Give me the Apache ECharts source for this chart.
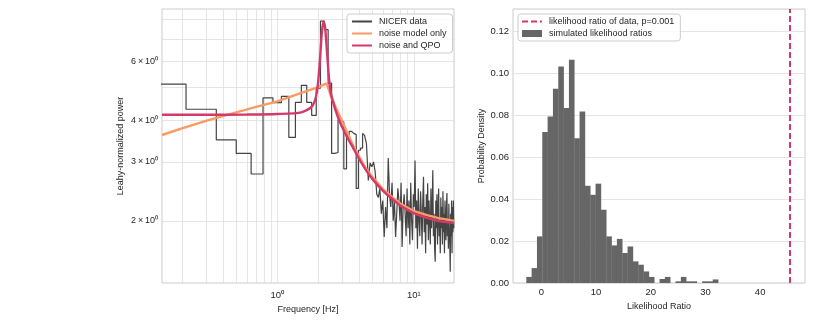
<!DOCTYPE html>
<html lang="en">
<head>
  <meta charset="UTF-8">
  <title>NICER QPO likelihood ratio test</title>
  <script src="https://cdn.jsdelivr.net/npm/echarts@6/dist/echarts.min.js"></script>
  <style>
    html, body { margin: 0; padding: 0; background: #fff; }
    #chart { width: 830px; height: 332px; }
  </style>
</head>
<body>
<div id="chart"></div>
<script>
// --- left panel: NICER power spectrum (Leahy normalised), frequency resolution 1/7 Hz
const freqStep = 1 / 7;
const nicerPower = [
  5.12, 4.31, 3.49, 3.18, 2.76, 4.66, 4.51, 4.71, 3.55, 4.52,
  5.08, 4.52, 4.13, 4.98, 7.90, 7.45, 5.16, 3.18, 3.20, 4.00,
  3.95, 2.86, 3.60, 3.70, 3.65, 3.62, 2.50, 3.25, 3.30, 3.65,
  3.60, 3.40, 2.64, 2.98, 2.90, 3.00, 2.80, 2.40, 2.35, 2.50,
  2.10, 2.30, 1.79, 2.20, 1.90, 3.08, 2.40, 2.20, 2.60, 2.00,
  2.30, 1.79, 2.10, 2.50, 2.30, 2.00, 2.60, 1.67, 2.20, 2.40,
  2.10, 1.80, 2.50, 1.90, 2.30, 1.70, 2.60, 2.00, 1.75, 2.40,
  2.20, 3.03, 1.90, 2.30, 1.65, 2.50, 2.00, 1.80, 2.45, 2.10,
  1.70, 2.30, 2.71, 1.85, 2.20, 1.60, 2.40, 1.95, 2.59, 1.75,
  2.30, 2.00, 1.70, 2.50, 1.90, 2.20, 2.83, 1.80, 2.10, 1.65,
  1.51, 2.30, 1.90, 2.40, 1.70, 2.10, 2.50, 1.80, 2.00, 1.60,
  2.35, 1.90, 2.20, 1.70, 2.45, 1.85, 2.10, 1.60, 2.30, 1.95,
  1.75, 2.20, 2.42, 1.80, 2.00, 1.65, 2.25, 1.90, 1.70, 1.41,
  2.10, 1.80, 2.30, 1.60, 2.20, 1.85, 2.30, 1.90
];

const noiseFreq  = [0.1429, 0.2, 0.3, 0.5, 0.7, 1.0, 1.5, 2.0, 2.3, 2.5, 2.8, 3.2, 3.6, 4.0, 4.5, 5.0, 6.0, 7.0, 8.0, 10, 12.5, 15, 19.79];
const noiseModel = [3.61, 3.78, 3.98, 4.22, 4.38, 4.55, 4.82, 5.02, 5.15, 4.65, 4.20, 3.73, 3.35, 3.10, 2.85, 2.70, 2.48, 2.35, 2.25, 2.14, 2.08, 2.04, 2.00];

const qpoFreq  = [0.1429, 0.3, 0.6, 1.0, 1.5, 1.8, 1.95, 2.05, 2.12, 2.18, 2.24, 2.3, 2.36, 2.42, 2.5, 2.8, 3.2, 3.6, 4.0, 4.5, 5.0, 6.0, 7.0, 8.0, 10, 12.5, 15, 19.79];
const qpoModel = [4.15, 4.15, 4.155, 4.17, 4.22, 4.40, 4.85, 6.0, 7.3, 7.88, 7.55, 6.6, 5.7, 5.1, 4.70, 4.05, 3.60, 3.30, 3.05, 2.82, 2.66, 2.45, 2.32, 2.22, 2.11, 2.04, 2.00, 1.97];

const freqLabels  = [1, 10];
const freqGrid    = [0.2, 0.3, 0.4, 0.5, 0.6, 0.7, 0.8, 0.9, 1, 2, 3, 4, 5, 6, 7, 8, 9, 10];
const powerLabels = [2, 3, 4, 6];
const powerGrid   = [2, 3, 4, 5, 6, 7, 8];

// --- right panel: simulated likelihood ratio histogram (density)
const histStart = -2.74;
const histWidth = 0.974;
const histDensity = [
  0.0029, 0.0071, 0.0222, 0.0719, 0.0793, 0.0925, 0.1031, 0.0833, 0.1063, 0.0690,
  0.0817, 0.0463, 0.0420, 0.0473, 0.0349, 0.0222, 0.0179, 0.0210, 0.0143, 0.0174,
  0.0103, 0.0087, 0.0055, 0.0029, 0, 0.0019, 0.0029, 0, 0.0008, 0.0029,
  0.0008, 0.0008, 0, 0.0008, 0.0008, 0.0017
];
const observedLR = 45.5;
const lrLabels = [0, 10, 20, 30, 40];

const FONT = "'Liberation Sans', Arial, sans-serif";
const TXT = '#262626';
const PINK = '#d33a6a';
const ORANGE = '#fa9a64';

// build step outline (steps-mid): each bin spans halfway to its neighbours
const freqs = nicerPower.map((_, i) => (i + 1) * freqStep);
const stepData = freqs.map((f, i) => [f - freqStep / 2, nicerPower[i]]);
stepData.push([freqs[freqs.length - 1] + freqStep / 2, nicerPower[nicerPower.length - 1]]);

const histData = histDensity.map((d, i) => [histStart + i * histWidth, histStart + (i + 1) * histWidth, d]);

const supDigits = { '0': '\u2070', '1': '\u00b9' };
const chart = echarts.init(document.getElementById('chart'));

const lineOnly = { opacity: 0 };   // legend: hide the marker, keep the line sample

const option = {
  animation: false,
  textStyle: { fontFamily: FONT },
  grid: [
    { left: 162, top: 9, width: 292, height: 274, show: true, borderColor: '#cccccc', borderWidth: 1, backgroundColor: '#fff' },
    { left: 513, top: 9, width: 292, height: 274, show: true, borderColor: '#cccccc', borderWidth: 1, backgroundColor: '#fff' }
  ],
  legend: [
    {
      data: [
        { name: 'NICER data', itemStyle: lineOnly },
        { name: 'noise model only', itemStyle: lineOnly },
        { name: 'noise and QPO', itemStyle: lineOnly }
      ],
      orient: 'vertical', left: 347, top: 14,
      padding: [3, 6, 3, 4], itemGap: 3, itemWidth: 20, itemHeight: 9,
      backgroundColor: 'rgba(255,255,255,0.85)', borderColor: '#cccccc', borderWidth: 1, borderRadius: 3,
      textStyle: { fontSize: 9, color: TXT, fontFamily: FONT, padding: [0, 0, 0, 2] }
    },
    {
      data: [
        { name: 'likelihood ratio of data, p=0.001', itemStyle: lineOnly },
        { name: 'simulated likelihood ratios', icon: 'rect' }
      ],
      orient: 'vertical', left: 518, top: 14,
      padding: [3, 6, 3, 3], itemGap: 3, itemWidth: 20, itemHeight: 7,
      backgroundColor: 'rgba(255,255,255,0.85)', borderColor: '#cccccc', borderWidth: 1, borderRadius: 3,
      textStyle: { fontSize: 9, color: TXT, fontFamily: FONT, padding: [0, 0, 0, 2] }
    }
  ],
  xAxis: [
    {
      type: 'log', logBase: 10, gridIndex: 0,
      min: freqs[0], max: freqs[freqs.length - 1],
      name: 'Frequency [Hz]', nameLocation: 'middle', nameGap: 22,
      nameTextStyle: { fontSize: 9, color: TXT, fontFamily: FONT },
      axisLine: { show: false },
      axisTick: { show: false, customValues: freqGrid },
      axisLabel: {
        customValues: freqLabels, margin: 7, fontSize: 9.5, color: TXT, fontFamily: FONT,
        formatter: v => '10' + supDigits[String(Math.round(Math.log10(v)))]
      },
      splitLine: { show: true, lineStyle: { color: '#dedede', width: 0.8 } }
    },
    {
      type: 'value', gridIndex: 1, min: -5.17, max: 48.2,
      name: 'Likelihood Ratio', nameLocation: 'middle', nameGap: 16,
      nameTextStyle: { fontSize: 9, color: TXT, fontFamily: FONT },
      axisLine: { show: false },
      axisTick: { show: false },
      axisLabel: { customValues: lrLabels, margin: 4, fontSize: 9.5, color: TXT, fontFamily: FONT },
      splitLine: { show: false }
    }
  ],
  yAxis: [
    {
      type: 'log', logBase: 10, gridIndex: 0, min: 1.304, max: 8.59,
      name: 'Leahy-normalized power', nameLocation: 'middle', nameGap: 37,
      nameTextStyle: { fontSize: 9, color: TXT, fontFamily: FONT },
      axisLine: { show: false },
      axisTick: { show: false, customValues: powerGrid },
      axisLabel: {
        customValues: powerLabels, margin: 4, fontSize: 9, color: TXT, fontFamily: FONT,
        formatter: v => Math.round(v) + '\u2009\u00d7\u200910\u2070'
      },
      splitLine: { show: true, lineStyle: { color: '#dedede', width: 0.8 } }
    },
    {
      type: 'value', gridIndex: 1, min: 0, max: 0.1305, interval: 0.02,
      name: 'Probability Density', nameLocation: 'middle', nameGap: 27,
      nameTextStyle: { fontSize: 9, color: TXT, fontFamily: FONT },
      axisLine: { show: false },
      axisTick: { show: false },
      axisLabel: { showMaxLabel: false, margin: 4, fontSize: 9.5, color: TXT, fontFamily: FONT, formatter: v => v.toFixed(2) },
      splitLine: { show: true, lineStyle: { color: '#dedede', width: 0.8 } }
    }
  ],
  series: [
    {
      name: 'NICER data', type: 'line', xAxisIndex: 0, yAxisIndex: 0,
      data: stepData, step: 'end', symbol: 'none', clip: true,
      lineStyle: { color: '#444444', width: 1.2 }, itemStyle: { color: '#444444' }, z: 2
    },
    {
      name: 'noise model only', type: 'line', xAxisIndex: 0, yAxisIndex: 0,
      data: noiseFreq.map((f, i) => [f, noiseModel[i]]), symbol: 'none', clip: true,
      lineStyle: { color: ORANGE, width: 2.4 }, itemStyle: { color: ORANGE }, z: 3
    },
    {
      name: 'noise and QPO', type: 'line', xAxisIndex: 0, yAxisIndex: 0,
      data: qpoFreq.map((f, i) => [f, qpoModel[i]]), symbol: 'none', smooth: 0.25, clip: true,
      lineStyle: { color: PINK, width: 2.4 }, itemStyle: { color: PINK }, z: 4
    },
    {
      name: 'simulated likelihood ratios', type: 'custom', xAxisIndex: 1, yAxisIndex: 1,
      data: histData, encode: { x: [0, 1], y: 2 },
      itemStyle: { color: '#666666' },
      renderItem: (params, api) => {
        const p0 = api.coord([api.value(0), api.value(2)]);
        const p1 = api.coord([api.value(1), 0]);
        return {
          type: 'rect',
          shape: { x: p0[0], y: p0[1], width: p1[0] - p0[0] + 0.3, height: p1[1] - p0[1] },
          style: { fill: '#666666' }
        };
      }
    },
    {
      name: 'likelihood ratio of data, p=0.001', type: 'line', xAxisIndex: 1, yAxisIndex: 1,
      data: [], symbol: 'none',
      lineStyle: { color: PINK, width: 2, type: [6, 3] }, itemStyle: { color: PINK },
      markLine: {
        silent: true, symbol: 'none', label: { show: false },
        lineStyle: { color: PINK, width: 2, type: [6, 3] },
        data: [{ xAxis: observedLR }]
      }
    }
  ]
};

chart.setOption(option);
</script>
</body>
</html>
